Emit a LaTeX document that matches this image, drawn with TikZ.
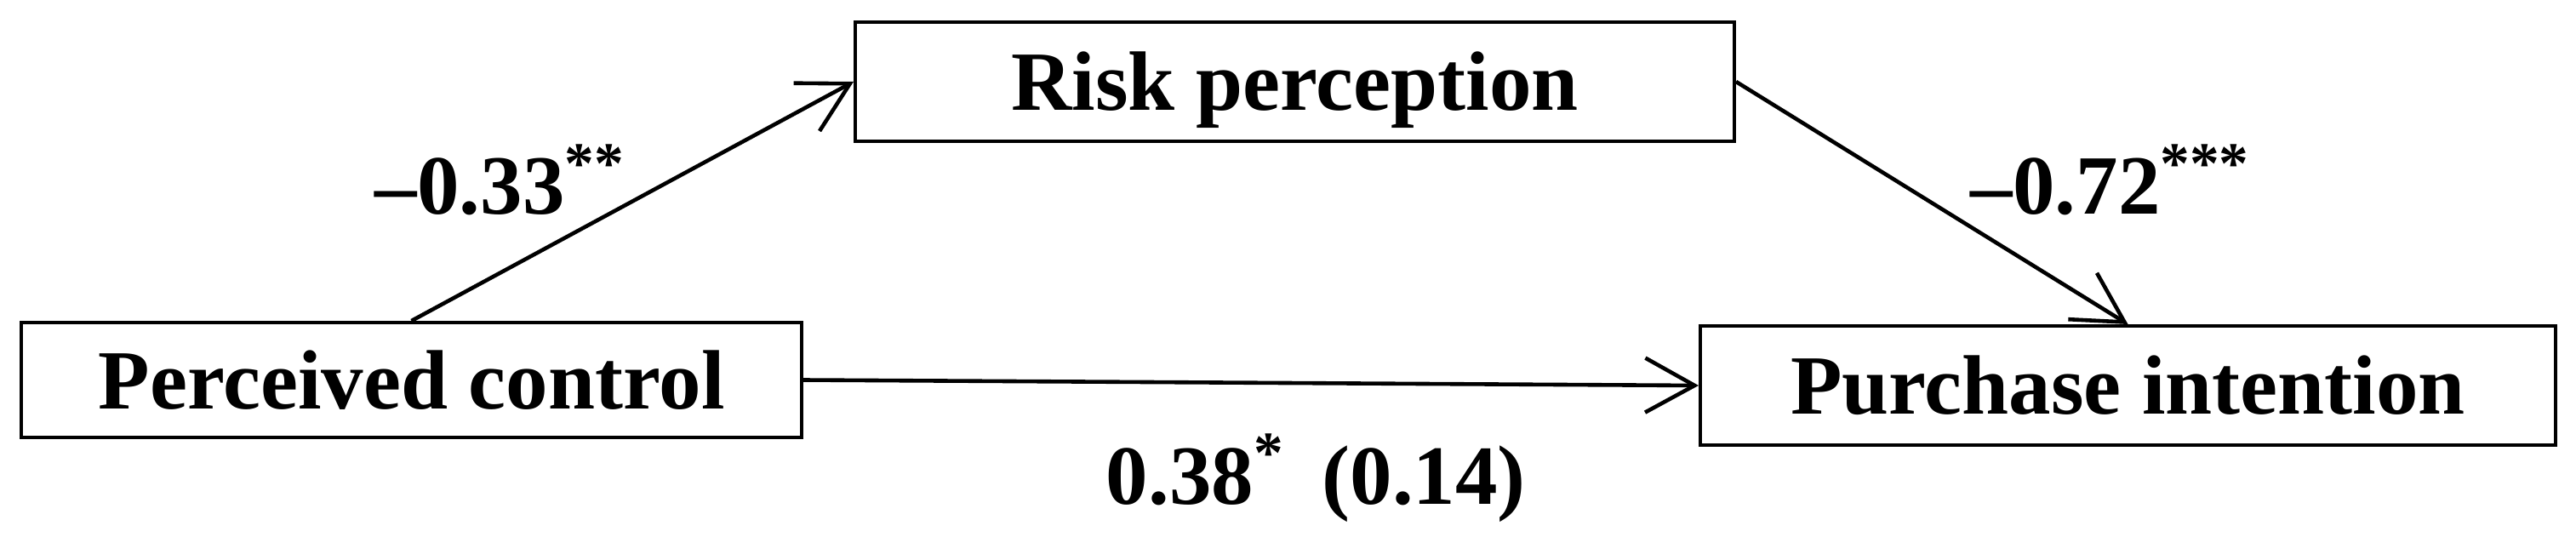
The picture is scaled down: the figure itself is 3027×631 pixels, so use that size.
\documentclass[tikz,border=0pt]{standalone}
\usepackage{fontspec}
\setmainfont{Liberation Serif}
\usetikzlibrary{arrows.meta}
\begin{document}
\begin{tikzpicture}[x=0.25pt,y=-0.25pt,
  box/.style={draw=black,line width=1pt,rectangle,inner sep=0pt,text height=16.75pt,text depth=0pt,font=\fontsize{24.75pt}{30pt}\selectfont\bfseries},
  lab/.style={inner sep=0pt,anchor=base west,font=\fontsize{24.75pt}{30pt}\selectfont\bfseries},
  arr/.style={line width=1.15pt,-{Straight Barb[length=14.5pt,width=16pt]}}]
\useasboundingbox (0,0) rectangle (3027,631);
\node[box,minimum width=229.25pt,minimum height=33.75pt] (pc) at (483.5,446.5) {Perceived control};
\node[box,minimum width=258.25pt,minimum height=35pt] (rp) at (1521.5,96) {Risk perception};
\node[box,minimum width=251.25pt,minimum height=35pt] (pi) at (2500.5,453) {Purchase intention};
\draw[arr] (pc.north) -- (rp.west);
\draw[arr] (rp.east) -- (pi.north);
\draw[arr] (pc.east) -- (pi.west);
\node[lab] (la) at (440,252) {–0.33\textsuperscript{**}};
\node[lab] (lb) at (2315,252) {–0.72\textsuperscript{***}};
\node[lab] (lc) at (1299,592) {0.38\textsuperscript{*}\hspace{11pt}(0.14)};
\end{tikzpicture}
\end{document}
